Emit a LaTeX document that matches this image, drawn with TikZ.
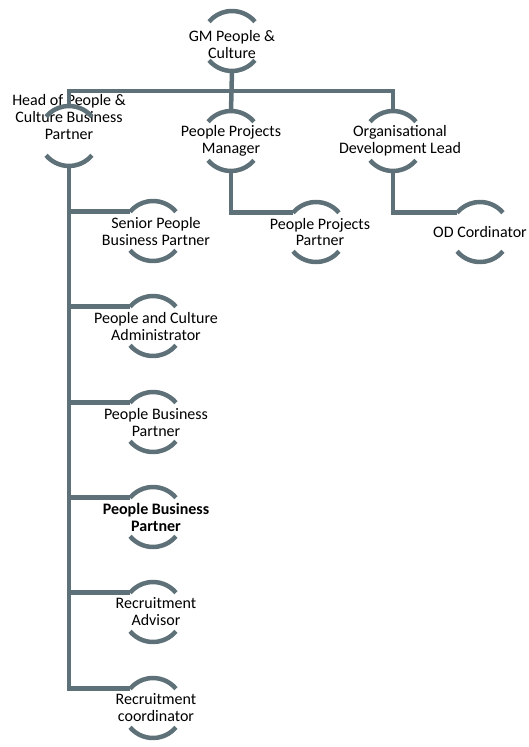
\documentclass[tikz,border=0pt]{standalone}
\usepackage{fontspec}
\setmainfont{Carlito}
\definecolor{ardoise}{RGB}{94,113,120}

\begin{document}
\begin{tikzpicture}[x=1pt,y=-1pt,
    poste/.style={circle,minimum size=60pt,inner sep=0pt,outer sep=0pt},
    texte/.style={align=center,font=\fontsize{16}{17}\selectfont},
    trait/.style={line width=4.5pt,color=ardoise}]

    \useasboundingbox (0,0) rectangle (528,747);

    % direction
    \node[poste,label={[texte,name=gm-t,yshift=-4pt]center:GM People \&\\Culture}] (gm) at (232,41) {};

    % niveau 2
    \node[poste,label={[texte,name=head-t,yshift=19pt]center:Head of People \&\\Culture Business\\Partner}] (head) at (69,136) {};
    \node[poste,label={[texte,name=ppm-t]center:People Projects\\Manager}] (ppm) at (231,141) {};
    \node[poste,label={[texte,name=odl-t,xshift=7pt]center:Organisational\\Development Lead}] (odl) at (393,141) {};

    % niveau 3
    \node[poste,label={[texte,name=ppp-t,xshift=4pt]center:People Projects\\Partner}] (ppp) at (316,232) {};
    \node[poste,label={[texte,name=odc-t]center:OD Cordinator}] (odc) at (480,232) {};

    \foreach \nom/\y/\txt/\st in {spbp/231/{Senior People\\Business Partner}/\relax,
                                  pca/326/{People and Culture\\Administrator}/\relax,
                                  pbp/422/{People Business\\Partner}/\relax,
                                  pbpb/517/{People Business\\Partner}/\bfseries,
                                  ra/612/{Recruitment\\Advisor}/\relax,
                                  rc/708/{Recruitment\\coordinator}/\relax} {
        \node[poste,label={[texte,name=\nom-t,xshift=3pt,font=\fontsize{16}{17}\selectfont\st]center:\txt}] (\nom) at (153,\y) {};
        \draw[trait] (head.south) |- (\nom.140);
    }

    % liaisons
    \coordinate (barre) at (0,91);
    \draw[trait] (head.north) -- (head.north |- barre) -- (odl.north |- barre) -- (odl.north);
    \draw[trait] (gm.south) -- (ppm.north);
    \draw[trait] (ppm.south) |- (ppp.140);
    \draw[trait] (odl.south) |- (odc.140);

    % arcs
    \foreach \n in {gm,head,ppm,odl,ppp,odc,spbp,pca,pbp,pbpb,ra,rc} {
        \draw[trait] (\n.40) arc (40:140:30pt);
        \draw[trait] (\n.220) arc (220:320:30pt);
    }

\end{tikzpicture}
\end{document}
